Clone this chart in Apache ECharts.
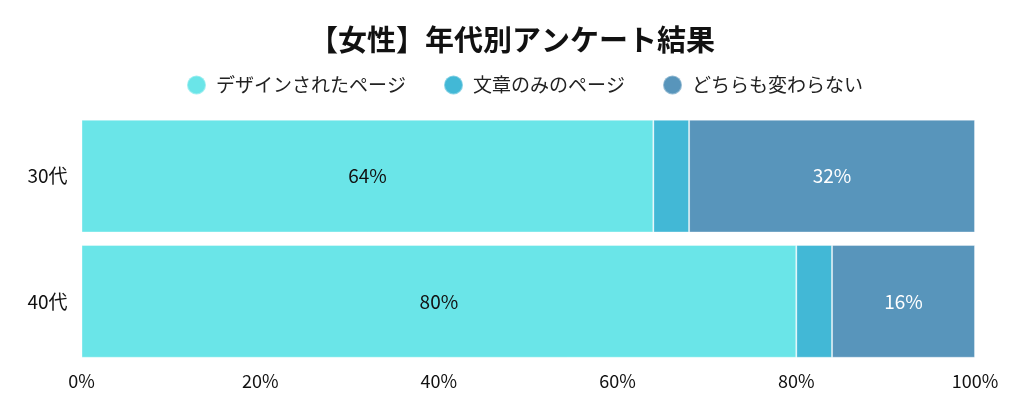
<!DOCTYPE html>
<html><head><meta charset="utf-8">
<script src="https://cdn.jsdelivr.net/npm/echarts@6/dist/echarts.min.js"></script>
<style>html,body{margin:0;padding:0;background:#fff}#c{width:1024px;height:395px}</style>
</head><body><div id="c"></div>
<script>
const categories = ['30代', '40代'];
const seriesNames = ['デザインされたページ', '文章のみのページ', 'どちらも変わらない'];
const designed = [64, 80];
const textOnly = [4, 4];
const noDiff = [32, 16];
const colors = ['#6ae5e8', '#42b8d6', '#5895bb'];
const labelColors = ['#111', null, '#fff'];
const valuesList = [designed, textOnly, noDiff];

const font = '"Noto Sans CJK JP", "Noto Sans", sans-serif';
const chart = echarts.init(document.getElementById('c'));
chart.setOption({
  animation: false,
  textStyle: { fontFamily: font },
  title: {
    text: '【女性】年代別アンケート結果',
    left: 'center', top: 20,
    textStyle: { fontFamily: font, fontSize: 29, fontWeight: 'bold', color: '#111' }
  },
  legend: {
    top: 69.5, left: 181, icon: 'circle', itemWidth: 19, itemHeight: 19, itemGap: 37,
    textStyle: { fontFamily: font, fontSize: 19, color: '#222', padding: [0, 0, 0, 5] },
    data: seriesNames
  },
  grid: { left: 81.5, right: 49, top: 113.5, bottom: 31, containLabel: false },
  xAxis: {
    type: 'value', min: 0, max: 100, interval: 20,
    axisLabel: { formatter: '{value}%', fontSize: 18, color: '#111', margin: 8, fontFamily: font },
    axisLine: { show: false }, axisTick: { show: false }, splitLine: { show: false }
  },
  yAxis: {
    type: 'category', data: categories, inverse: true,
    axisLabel: { fontSize: 19, color: '#111', margin: 14, fontFamily: font },
    axisLine: { show: false }, axisTick: { show: false }
  },
  series: seriesNames.map((n, i) => ({
    name: n, type: 'bar', stack: 'total', barCategoryGap: '10%',
    data: valuesList[i],
    itemStyle: { color: colors[i], borderColor: 'rgba(255,255,255,0.35)', borderWidth: 1 },
    label: {
      show: labelColors[i] !== null, position: 'inside', formatter: '{c}%',
      color: labelColors[i] || '#000', fontSize: 19, fontFamily: font
    }
  }))
});
</script></body></html>
